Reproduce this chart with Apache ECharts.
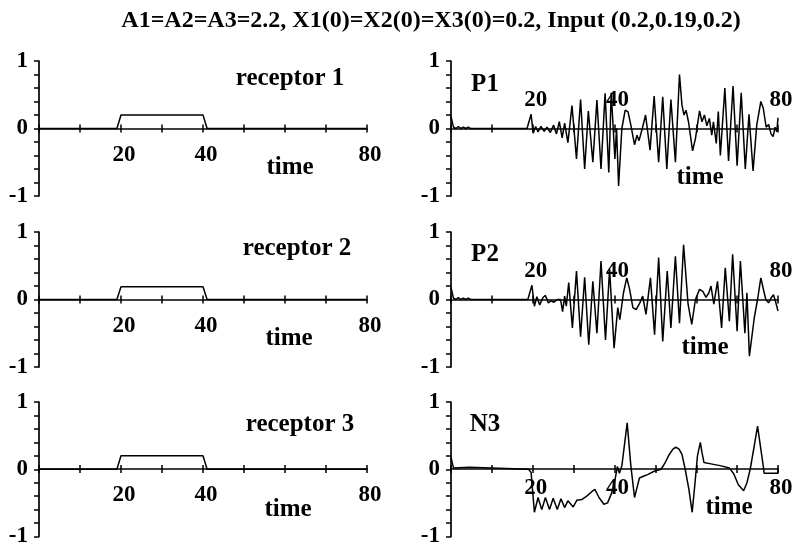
<!DOCTYPE html>
<html>
<head>
<meta charset="utf-8">
<script src="https://cdn.jsdelivr.net/npm/echarts@6/dist/echarts.min.js"></script>
<style>
html, body { margin: 0; padding: 0; background: #fff; }
#chart { width: 805px; height: 548px; }
</style>
</head>
<body>
<div id="chart"></div>
<script>
// ---- data ----
const titleText = 'A1=A2=A3=2.2, X1(0)=X2(0)=X3(0)=0.2, Input (0.2,0.19,0.2)';
const panelNames = ['receptor 1', 'receptor 2', 'receptor 3', 'P1', 'P2', 'N3'];
const axisTitle = 'time';
const xTickLabels = [20, 40, 80];
const yTickLabels = [-1, 0, 1];

// receptor inputs: a step of height A switched on between t = 20 and t = 40
const receptorTime = [0, 19, 20, 40, 41, 80];
const receptor1 = [0, 0, 0.2, 0.2, 0, 0];
const receptor2 = [0, 0, 0.19, 0.19, 0, 0];
const receptor3 = [0, 0, 0.2, 0.2, 0, 0];

const p1Time = [0, 0.6, 1.2, 1.8, 2.4, 3.0, 3.6, 4.2, 4.8, 18.6, 19.6, 20.1, 20.7, 21.3, 22.0, 22.8, 23.5, 24.3,
  25.1, 25.8, 26.5, 27.2, 27.8, 28.6, 29.6, 30.7, 31.7, 32.7, 33.6, 34.7, 35.7, 36.7, 37.7, 38.6, 39.2, 40.1,
  40.5, 41.0, 41.8, 42.6, 43.3, 44.0, 44.9, 45.5, 46.0, 46.8, 47.6, 48.7, 49.7, 50.8, 51.8, 52.8, 53.8, 54.9,
  55.9, 56.5, 57.0, 57.5, 58.1, 59.1, 59.8, 60.8, 61.4, 62.0, 62.6, 63.2, 63.8, 64.2, 64.9, 65.4, 65.9, 67.0,
  67.9, 69.0, 70.0, 71.0, 72.0, 72.9, 73.9, 74.8, 75.8, 76.4, 77.1, 77.7, 78.3, 78.8, 79.3, 79.7, 80];
const p1Value = [0.18, 0.02, 0, 0.03, 0, 0.02, 0, 0.02, 0, 0, 0.21, -0.07, 0.03, -0.05, 0.03, -0.04, 0.02, -0.06,
  0.05, -0.08, 0.1, -0.14, 0.08, -0.21, 0.34, -0.45, 0.43, -0.6, 0.26, -0.5, 0.42, -0.6, 0.52, -0.65, 0.53, -0.45,
  0, -0.85, 0, 0.27, 0.25, 0.05, -0.24, -0.1, -0.18, 0, 0.2, -0.32, 0.48, -0.5, 0.47, -0.6, 0.43, -0.5,
  0.8, 0.35, 0.2, 0.27, 0.1, -0.33, -0.15, 0.26, 0.1, 0.2, 0.04, 0.15, -0.1, 0.1, -0.22, 0.25, -0.4, 0.6,
  -0.48, 0.63, -0.55, 0.53, -0.6, 0.21, -0.63, 0.05, 0.4, 0.3, 0.02, 0.06, -0.08, -0.12, 0.02, -0.05, 0.16];

const p2Time = [0, 0.6, 1.2, 1.8, 2.4, 3.0, 3.6, 4.2, 4.8, 18.8, 19.8, 20.4, 21.0, 21.7, 22.5, 23.1, 23.8, 24.5,
  25.2, 26.0, 26.8, 27.3, 27.8, 28.2, 28.8, 29.7, 30.7, 31.7, 32.7, 33.7, 34.7, 35.7, 36.7, 37.8, 38.8, 39.9,
  40.8, 41.3, 42.2, 43.0, 43.7, 44.5, 45.3, 46.2, 46.9, 47.7, 48.8, 49.8, 50.8, 51.8, 52.9, 53.8, 54.9, 55.9,
  56.9, 58.0, 58.9, 59.8, 60.8, 61.6, 62.4, 63.1, 63.6, 64.3, 65.2, 66.2, 67.1, 68.1, 68.9, 70.0, 70.8, 71.9,
  72.4, 73.0, 74.2, 75.0, 75.8, 77.0, 77.7, 78.4, 78.9, 79.4, 80];
const p2Value = [0.18, 0.02, 0, 0.03, 0, 0.02, 0, 0.02, 0, 0, 0.21, -0.1, 0.04, -0.08, 0.03, 0.06, -0.05, -0.02,
  -0.04, 0, 0, -0.18, 0.05, -0.1, 0.25, -0.42, 0.42, -0.55, 0.33, -0.67, 0.27, -0.5, 0.57, -0.6, 0.45, -0.72,
  -0.12, -0.3, 0.1, 0.32, 0.15, -0.12, -0.15, -0.05, 0.05, -0.22, 0.32, -0.52, 0.62, -0.62, 0.42, -0.42, 0.64, -0.35,
  0.81, -0.07, -0.37, 0, 0.15, 0.12, 0.03, 0.1, 0.2, -0.07, 0.27, -0.42, 0.47, -0.32, 0.67, -0.47, 0.57, -0.5,
  0.1, -0.84, -0.27, 0, 0.32, 0, -0.05, 0.03, 0.07, -0.03, -0.17];

const n3Time = [0, 0.6, 1.0, 4.5, 4.6, 13.5, 13.6, 19.0, 19.6, 20.4, 21.3, 22.2, 23.1, 24.1, 25.0, 26.0, 26.9,
  27.8, 28.6, 29.9, 30.8, 32.0, 33.2, 34.5, 35.2, 36.2, 37.4, 38.3, 39.2, 40.0, 40.7, 41.2, 41.8, 43.1, 44.0,
  44.9, 45.4, 46.1, 47.2, 48.1, 49.7, 51.4, 52.4, 53.4, 54.3, 55.0, 55.8, 56.5, 57.3, 58.2, 59.0, 59.7, 60.3,
  61.0, 61.4, 61.9, 63.6, 66.1, 68.1, 69.2, 70.3, 71.6, 72.4, 73.2, 74.2, 75.0, 75.8, 76.5, 76.6, 80, 80];
const n3Value = [0.18, 0.02, 0.03, 0.03, 0.012, 0.012, 0, 0, -0.05, -0.64, -0.42, -0.6, -0.42, -0.6, -0.43, -0.6, -0.44,
  -0.57, -0.47, -0.56, -0.46, -0.45, -0.4, -0.33, -0.3, -0.42, -0.52, -0.5, -0.37, -0.2, 0.04, -0.06, 0.05, 0.69, 0.05,
  -0.42, -0.3, -0.13, -0.1, -0.08, -0.03, 0, 0.1, 0.22, 0.3, 0.33, 0.3, 0.22, 0, -0.3, -0.64, -0.2, 0.2,
  0.4, 0.25, 0.1, 0.08, 0.05, 0.02, -0.07, -0.23, -0.32, -0.2, 0, 0.35, 0.64, 0.3, 0, -0.06, -0.06, 0.02];

const panelSeries = [
  [receptorTime, receptor1], [receptorTime, receptor2], [receptorTime, receptor3],
  [p1Time, p1Value], [p2Time, p2Value], [n3Time, n3Value]
];

// ---- layout ----
const FONT = '"Liberation Serif", "Times New Roman", serif';
const rowTop = [61, 232, 402];
const panelH = 135;
const colLeft = [39, 451];
const colWidth = [328, 327];
// panel index -> [column, row]
const panelPos = [[0, 0], [0, 1], [0, 2], [1, 0], [1, 1], [1, 2]];
// x tick labels above the zero line in P1 and P2, below elsewhere
const labelsAbove = [false, false, false, true, true, false];
const labelMargin = [15, 15, 15, 17, 17, 8];
// panel caption and "time" caption anchors
const namePos = [[290, 79], [297, 249], [300, 425], [485, 85], [485, 255], [485, 425]];
const timePos = [[290, 168], [289, 339], [288, 510], [700, 178], [705, 348], [729, 508]];

const zip = (a, b) => a.map((t, i) => [t, b[i]]);

const grids = [], xAxes = [], yAxes = [], series = [], graphics = [];

panelPos.forEach(([c, r], i) => {
  grids.push({ left: colLeft[c], top: rowTop[r], width: colWidth[c], height: panelH, containLabel: false });

  const xCommon = {
    type: 'value', gridIndex: i, min: 0, max: 80, interval: 10,
    position: 'bottom', offset: -panelH / 2,
    splitLine: { show: false }
  };
  // main x axis: line, downward ticks and labels
  xAxes.push(Object.assign({}, xCommon, {
    axisLine: { show: true, onZero: false, lineStyle: { color: '#000', width: 1.7 } },
    axisTick: { show: true, length: 4, lineStyle: { color: '#000', width: 1.5 } },
    axisLabel: {
      show: true, inside: labelsAbove[i], margin: labelMargin[i],
      showMinLabel: true, showMaxLabel: true,
      formatter: v => (xTickLabels.indexOf(Math.round(v)) >= 0 && Math.abs(v - Math.round(v)) < 1e-9) ? String(Math.round(v)) : '',
      color: '#000', fontFamily: FONT, fontWeight: 'bold', fontSize: 23,
      padding: [0, 0, 0, 6]
    }
  }));
  // companion axis: upward halves of the ticks so they cross the line
  xAxes.push(Object.assign({}, xCommon, {
    axisLine: { show: false, onZero: false },
    axisTick: { show: true, inside: true, length: 4, lineStyle: { color: '#000', width: 1.5 } },
    axisLabel: { show: false }
  }));

  yAxes.push({
    type: 'value', gridIndex: i, min: -1, max: 1, interval: 0.2,
    axisLine: { show: true, onZero: false, lineStyle: { color: '#000', width: 1.7 } },
    axisTick: { show: true, length: 5, lineStyle: { color: '#000', width: 1.5 } },
    splitLine: { show: false },
    axisLabel: {
      margin: 11, color: '#000', fontFamily: FONT, fontWeight: 'bold', fontSize: 23,
      showMinLabel: true, showMaxLabel: true,
      formatter: v => {
        const k = yTickLabels.find(t => Math.abs(v - t) < 1e-6);
        return k === undefined ? '' : String(k);
      }
    }
  });

  const [tArr, vArr] = panelSeries[i];
  series.push({
    type: 'line', xAxisIndex: 2 * i, yAxisIndex: i,
    data: zip(tArr, vArr),
    showSymbol: false, symbol: 'none', animation: false,
    lineStyle: { color: '#000', width: 1.5 },
    z: 5
  });

  graphics.push({
    type: 'text', x: namePos[i][0], y: namePos[i][1],
    style: { text: panelNames[i], fill: '#000', font: 'bold 25px ' + FONT, align: 'center', verticalAlign: 'middle' }
  });
  graphics.push({
    type: 'text', x: timePos[i][0], y: timePos[i][1],
    style: { text: axisTitle, fill: '#000', font: 'bold 25px ' + FONT, align: 'center', verticalAlign: 'middle' }
  });
});

const chart = echarts.init(document.getElementById('chart'), null, { renderer: 'canvas' });
chart.setOption({
  animation: false,
  backgroundColor: '#fff',
  title: {
    text: titleText, left: 426, top: 4, textAlign: 'center',
    textStyle: { color: '#000', fontFamily: FONT, fontWeight: 'bold', fontSize: 24 }
  },
  grid: grids,
  xAxis: xAxes,
  yAxis: yAxes,
  series: series,
  graphic: graphics
});
</script>
</body>
</html>
